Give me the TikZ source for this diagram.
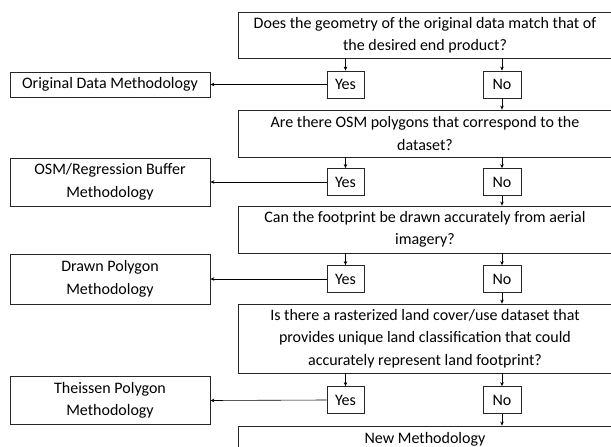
\documentclass[tikz,border=0pt]{standalone}
\usepackage{fontspec}
\setmainfont{Carlito}
\usetikzlibrary{arrows.meta}
\usetikzlibrary{positioning}

\begin{document}
\begin{tikzpicture}[>={Stealth[length=4pt,width=3.5pt]}, x=1pt, y=-1pt,
  every node/.style={font=\fontsize{16}{22.5}\selectfont, inner sep=0pt},
  qbox/.style={draw=black!85, line width=0.8pt, minimum width=374pt, align=center},
  ansbox/.style={draw=black!85, line width=0.8pt, minimum height=27pt},
  methbox/.style={draw=black!85, line width=0.8pt, minimum width=200pt, align=center},
  flow/.style={->, line width=0.6pt}]
  \useasboundingbox (0, 0) rectangle (611, 447);

  % Fragen
  \node[qbox, minimum height=46pt] (q1) at (425, 35)
    {Does the geometry of the original data match that of\\the desired end product?};
  \node[qbox, minimum height=47pt] (q2) at (425, 133.5)
    {Are there OSM polygons that correspond to the\\dataset?};
  \node[qbox, minimum height=47pt] (q3) at (425, 229.5)
    {Can the footprint be drawn accurately from aerial\\imagery?};
  \node[qbox, minimum height=69pt] (q4) at (425, 338.5)
    {Is there a rasterized land cover/use dataset that\\provides unique land classification that could\\accurately represent land footprint?};
  \node[qbox, minimum height=27pt] (new) at (425, 439.5) {New Methodology};

  % Ja / Nein
  \node[ansbox, minimum width=37pt] (yes1) at (345.5, 84.5) {Yes};
  \node[ansbox, minimum width=38pt] (no1) at (502, 84.5) {No};
  \node[ansbox, minimum width=37pt] (yes2) at (345.5, 182) {Yes};
  \node[ansbox, minimum width=38pt] (no2) at (502, 182) {No};
  \node[ansbox, minimum width=37pt] (yes3) at (345.5, 279) {Yes};
  \node[ansbox, minimum width=38pt] (no3) at (502, 279) {No};
  \node[ansbox, minimum width=37pt] (yes4) at (345.5, 400) {Yes};
  \node[ansbox, minimum width=38pt] (no4) at (502, 400) {No};

  % Methoden
  \node[methbox, minimum height=25pt] (meth1) at (110, 84.5) {Original Data Methodology};
  \node[methbox, minimum height=48pt] (meth2) at (110, 182) {OSM/Regression Buffer\\Methodology};
  \node[methbox, minimum height=50pt] (meth3) at (110, 279) {Drawn Polygon\\Methodology};
  \node[methbox, minimum height=48pt] (meth4) at (110, 400.5) {Theissen Polygon\\Methodology};

  % Pfeile
  \draw[flow] (q1.south -| yes1.north) -- (yes1.north);
  \draw[flow] (q1.south -| no1.north) -- (no1.north);
  \draw[flow] (no1.south) -- (q2.north -| no1.south);
  \draw[flow] (yes1.west) -- (meth1.east);

  \draw[flow] (q2.south -| yes2.north) -- (yes2.north);
  \draw[flow] (q2.south -| no2.north) -- (no2.north);
  \draw[flow] (no2.south) -- (q3.north -| no2.south);
  \draw[flow] (yes2.west) -- (meth2.east);

  \draw[flow] (q3.south -| yes3.north) -- (yes3.north);
  \draw[flow] (q3.south -| no3.north) -- (no3.north);
  \draw[flow] (no3.south) -- (q4.north -| no3.south);
  \draw[flow] (yes3.west) -- (meth3.east);

  \draw[flow] (q4.south -| yes4.north) -- (yes4.north);
  \draw[flow] (q4.south -| no4.north) -- (no4.north);
  \draw[flow] (no4.south) -- (new.north -| no4.south);
  \draw[flow] (yes4.west) -- (meth4.east);
\end{tikzpicture}
\end{document}
